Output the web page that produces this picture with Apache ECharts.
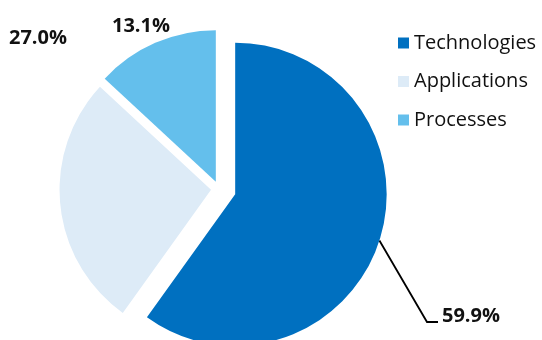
<!DOCTYPE html>
<html>
<head>
<meta charset="utf-8">
<script src="https://cdn.jsdelivr.net/npm/echarts@6/dist/echarts.min.js"></script>
<style>
html,body{margin:0;padding:0;background:#fff;}
#chart{width:542px;height:340px;}
</style>
</head>
<body>
<div id="chart"></div>
<script>
// ---- data ----
const categories = ['Technologies', 'Applications', 'Processes'];
const values = [59.9, 27.0, 13.1];

// ---- style ----
const colors = ['#0070C0', '#DDEBF7', '#64BFEC'];
const explode = [17, 8, 8];
const FONT = '"Open Sans", "Noto Sans", sans-serif';
const CENTER = [219, 189];
const RADIUS = 151.5;
const labelAnchors = [
  {x: 442, y: 316, line: [[427, 322], [438, 322]]},
  {x: 9, y: 38.5},
  {x: 112, y: 26}
];

const chart = echarts.init(document.getElementById('chart'), null, {renderer: 'canvas'});

// one selected (exploded) series per slice
const sliceSeries = categories.map(function (_, i) {
  return {
    type: 'pie',
    center: CENTER,
    radius: RADIUS,
    startAngle: 90,
    clockwise: true,
    selectedMode: 'multiple',
    selectedOffset: explode[i],
    silent: true,
    animation: false,
    label: {show: false},
    labelLine: {show: false},
    data: categories.map(function (name, j) {
      return {
        name: name,
        value: values[j],
        selected: j === i,
        itemStyle: {color: j === i ? colors[j] : 'rgba(0,0,0,0)'}
      };
    })
  };
});

// label series (not exploded) carrying the percentage labels
const labelSeries = {
  type: 'pie',
  center: CENTER,
  radius: RADIUS,
  startAngle: 90,
  clockwise: true,
  silent: true,
  animation: false,
  avoidLabelOverlap: false,
  itemStyle: {color: 'rgba(0,0,0,0)'},
  label: {
    show: true,
    position: 'outside',
    fontFamily: FONT,
    fontWeight: 'bold',
    fontSize: 20,
    color: '#111',
    formatter: function (p) { return p.value.toFixed(1) + '%'; }
  },
  labelLine: {show: true, length: 10, length2: 10, smooth: false,
    lineStyle: {color: '#000', width: 1.8}},
  labelLayout: function (params) {
    const i = params.dataIndex;
    const a = labelAnchors[i];
    const out = {x: a.x, y: a.y, align: 'left', verticalAlign: 'middle'};
    if (a.line && params.labelLinePoints) {
      const p0 = params.labelLinePoints[0];
      const vx = p0[0] - CENTER[0], vy = p0[1] - CENTER[1];
      const len = Math.sqrt(vx * vx + vy * vy) || 1;
      const s = [p0[0] + explode[i] * vx / len, p0[1] + explode[i] * vy / len];
      out.labelLinePoints = [s, a.line[0], a.line[1]];
    }
    return out;
  },
  data: categories.map(function (name, j) {
    return {
      name: name,
      value: values[j],
      labelLine: {show: j === 0}
    };
  })
};

chart.setOption({
  animation: false,
  legend: {
    orient: 'vertical',
    left: 398,
    top: 31,
    padding: 0,
    icon: 'rect',
    itemWidth: 11,
    itemHeight: 11,
    itemGap: 14.5,
    selectedMode: false,
    textStyle: {fontFamily: FONT, fontSize: 20, color: '#111', lineHeight: 24},
    data: categories.map(function (name, j) {
      return {name: name, itemStyle: {color: colors[j]}};
    })
  },
  series: sliceSeries.concat([labelSeries])
});
</script>
</body>
</html>
